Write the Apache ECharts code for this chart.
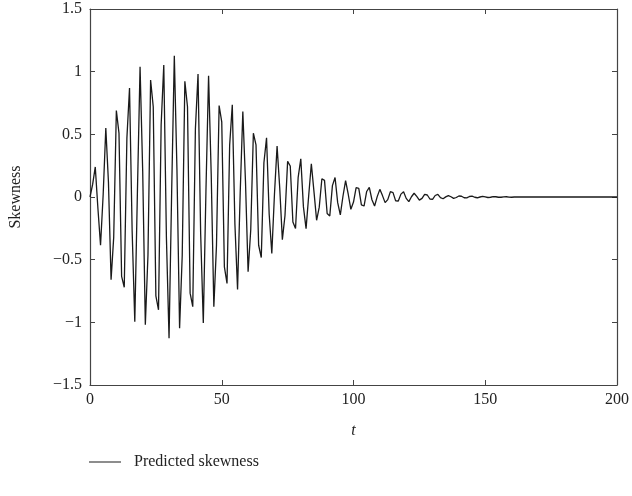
<!DOCTYPE html>
<html>
<head>
<meta charset="utf-8">
<script src="https://cdn.jsdelivr.net/npm/echarts@6/dist/echarts.min.js"></script>
<style>
html,body{margin:0;padding:0;background:#fff;}
#chart{width:632px;height:496px;}
</style>
</head>
<body>
<div id="chart"></div>
<script>
// Predicted skewness sampled at t = 0, 1, 2, ..., 200
const skewness = [
  0, 0.10, 0.24, -0.09, -0.385, 0.02, 0.55, 0.12, -0.66, -0.32,
  0.69, 0.51, -0.634, -0.72, 0.47, 0.87, -0.276, -0.995, 0.046, 1.04,
  0.206, -1.02, -0.462, 0.934, 0.72, -0.788, -0.90, 0.576, 1.053, -0.324,
  -1.127, 0.051, 1.127, 0.217, -1.048, -0.466, 0.923, 0.72, -0.767, -0.875,
  0.545, 0.981, -0.296, -1.005, 0.045, 0.968, 0.184, -0.875, -0.386, 0.73,
  0.60, -0.557, -0.69, 0.414, 0.735, -0.22, -0.737, 0.032, 0.682, 0.128,
  -0.597, -0.263, 0.509, 0.416, -0.385, -0.483, 0.273, 0.472, -0.138, -0.451,
  0.02, 0.406, 0.074, -0.34, -0.148, 0.284, 0.247, -0.199, -0.252, 0.157,
  0.305, -0.079, -0.252, 0.012, 0.265, 0.043, -0.186, -0.081, 0.146, 0.133,
  -0.132, -0.151, 0.091, 0.156, -0.045, -0.143, 0.006, 0.13, 0.022, -0.098,
  -0.04, 0.074, 0.069, -0.063, -0.072, 0.044, 0.077, -0.022, -0.072, 0.003,
  0.061, 0.011, -0.045, -0.021, 0.042, 0.035, -0.031, -0.032, 0.023, 0.042,
  -0.011, -0.037, 0.002, 0.03, 0.005, -0.025, -0.011, 0.021, 0.016, -0.016,
  -0.019, 0.012, 0.021, -0.005, -0.014, 0.001, 0.011, 0.002, -0.011, -0.004,
  0.008, 0.006, -0.006, -0.007, 0.004, 0.007, -0.002, -0.006, 0, 0.005,
  0.001, -0.004, -0.002, 0.003, 0.002, -0.002, -0.002, 0.001, 0.002, -0.001,
  -0.002, 0, 0, 0, 0, 0, 0, 0, 0, 0,
  0, 0, 0, 0, 0, 0, 0, 0, 0, 0,
  0, 0, 0, 0, 0, 0, 0, 0, 0, 0,
  0, 0, 0, 0, 0, 0, 0, 0, 0, 0,
  0
];
const xTicks = [0, 50, 100, 150, 200];
const yTicks = [-1.5, -1, -0.5, 0, 0.5, 1, 1.5];
const seriesName = 'Predicted skewness';
const xName = 't';
const yName = 'Skewness';

const FONT = '"Liberation Serif", "DejaVu Serif", serif';
const AX = '#444';
const fmtY = v => (v < 0 ? '\u2212' + Math.abs(v) : String(v));

const chart = echarts.init(document.getElementById('chart'), null, {renderer: 'canvas'});
const common = {
  axisLine: {show: true, onZero: false, lineStyle: {color: AX, width: 1.2}},
  axisTick: {show: true, inside: true, length: 5, lineStyle: {color: AX, width: 1}},
  splitLine: {show: false}
};
chart.setOption({
  animation: false,
  backgroundColor: '#fff',
  grid: {left: 89, right: 15, top: 9, bottom: 111, containLabel: false},
  legend: {
    data: [seriesName],
    left: 84, top: 449,
    icon: 'rect', itemWidth: 32, itemHeight: 1,
    itemGap: 10,
    textStyle: {fontFamily: FONT, fontSize: 16, color: '#222', padding: [0, 0, 0, 8]}
  },
  xAxis: [
    Object.assign({
      type: 'value', min: xTicks[0], max: xTicks[xTicks.length - 1], interval: 50,
      position: 'bottom',
      name: xName, nameLocation: 'middle', nameGap: 38,
      nameTextStyle: {fontFamily: FONT, fontSize: 16, fontStyle: 'italic', color: '#222'},
      axisLabel: {fontFamily: FONT, fontSize: 16, color: '#222', margin: 7}
    }, common),
    Object.assign({
      type: 'value', min: xTicks[0], max: xTicks[xTicks.length - 1], interval: 50,
      position: 'top', axisLabel: {show: false}
    }, common)
  ],
  yAxis: [
    Object.assign({
      type: 'value', min: yTicks[0], max: yTicks[yTicks.length - 1], interval: 0.5,
      position: 'left',
      name: yName, nameLocation: 'middle', nameGap: 66, nameRotate: 90,
      nameTextStyle: {fontFamily: FONT, fontSize: 16, color: '#222'},
      axisLabel: {fontFamily: FONT, fontSize: 16, color: '#222', margin: 8, formatter: fmtY}
    }, common),
    Object.assign({
      type: 'value', min: yTicks[0], max: yTicks[yTicks.length - 1], interval: 0.5,
      position: 'right', axisLabel: {show: false}
    }, common)
  ],
  series: [{
    name: seriesName,
    type: 'line',
    xAxisIndex: 0, yAxisIndex: 0,
    data: skewness.map((v, i) => [i, v]),
    showSymbol: false,
    symbol: 'none',
    lineStyle: {color: '#1a1a1a', width: 1.3},
    itemStyle: {color: '#1a1a1a'}
  }]
});
</script>
</body>
</html>
